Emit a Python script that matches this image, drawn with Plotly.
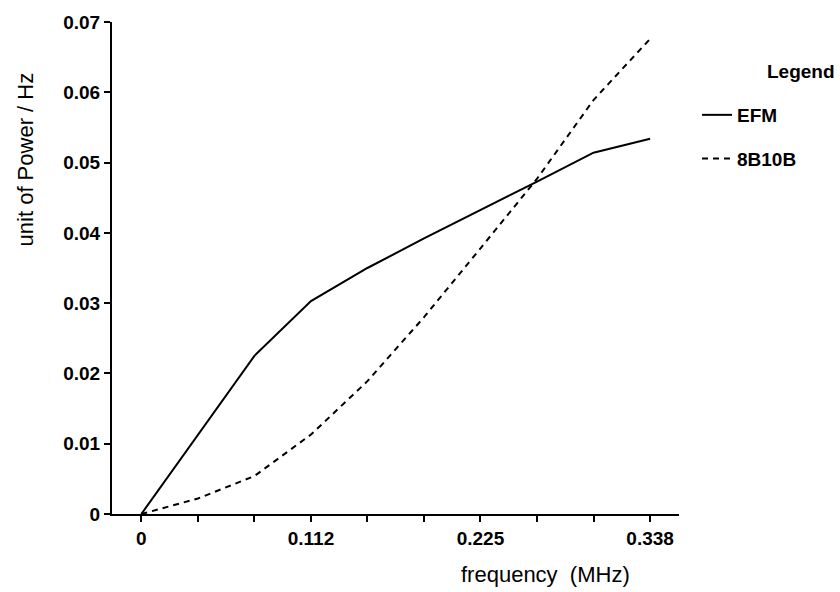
import plotly.graph_objects as go

# ---- data ----
frequency = [0, 0.0376, 0.0751, 0.1127, 0.1502, 0.1878, 0.2253, 0.2629, 0.3004, 0.338]
efm = [0, 0.0112, 0.0225, 0.0303, 0.0350, 0.0392, 0.0432, 0.0473, 0.0514, 0.0534]
b8b10b = [0, 0.0022, 0.0054, 0.0113, 0.0189, 0.0280, 0.0378, 0.0477, 0.0589, 0.0676]

x_tick_vals = [0, 0.0376, 0.0751, 0.1127, 0.1502, 0.1878, 0.2253, 0.2629, 0.3004, 0.338]
x_tick_text = ["0", "", "", "0.112", "", "", "0.225", "", "", "0.338"]
y_tick_vals = [0, 0.01, 0.02, 0.03, 0.04, 0.05, 0.06, 0.07]
y_tick_text = ["0", "0.01", "0.02", "0.03", "0.04", "0.05", "0.06", "0.07"]

FONT = "Liberation Sans"

fig = go.Figure()
fig.add_trace(go.Scatter(
    x=frequency, y=efm, mode="lines", name="EFM", legendgroup="a",
    line=dict(color="black", width=2),
))
fig.add_trace(go.Scatter(
    x=frequency, y=b8b10b, mode="lines", name="8B10B", legendgroup="b",
    line=dict(color="black", width=2, dash="6px,5px"),
))

fig.update_layout(
    width=840, height=592,
    margin=dict(l=112, r=161, t=20, b=78),
    plot_bgcolor="white", paper_bgcolor="white",
    font=dict(family=FONT, color="black", size=18),
    showlegend=True,
    legend=dict(
        xref="container", yref="container",
        x=697 / 840, y=1 - 96 / 592, xanchor="left", yanchor="top",
        font=dict(family=FONT, size=19, weight="bold", color="black"),
        tracegroupgap=16, bgcolor="rgba(0,0,0,0)", borderwidth=0,
    ),
    xaxis=dict(
        range=[-0.0195, 0.3572],
        tickmode="array", tickvals=x_tick_vals, ticktext=x_tick_text,
        ticks="outside", ticklen=6, tickwidth=2, tickcolor="black",
        showline=True, linecolor="black", linewidth=2,
        showgrid=False, zeroline=False,
        tickfont=dict(family=FONT, size=19, weight="bold", color="black"),
    ),
    yaxis=dict(
        range=[0, 0.07],
        tickmode="array", tickvals=y_tick_vals, ticktext=y_tick_text,
        ticks="outside", ticklen=6, tickwidth=2, tickcolor="black",
        showline=True, linecolor="black", linewidth=2,
        showgrid=False, zeroline=False,
        tickfont=dict(family=FONT, size=19, weight="bold", color="black"),
    ),
    annotations=[
        dict(text="unit of Power / Hz", xref="paper", yref="paper",
             x=25 / 840 * 0 + (25 - 112) / 567, y=(514 - 158) / 494,
             xanchor="center", yanchor="middle", textangle=-90, showarrow=False,
             font=dict(family=FONT, size=22, color="black")),
        dict(text="frequency\u00a0\u00a0(MHz)", xref="paper", yref="paper",
             x=(545 - 112) / 567, y=-(575 - 514) / 494,
             xanchor="center", yanchor="middle", showarrow=False,
             font=dict(family=FONT, size=22, color="black")),
        dict(text="Legend", xref="paper", yref="paper",
             x=(801 - 112) / 567, y=(514 - 70) / 494,
             xanchor="center", yanchor="middle", showarrow=False,
             font=dict(family=FONT, size=19, weight="bold", color="black")),
    ],
)

fig.write_html("out.html")
